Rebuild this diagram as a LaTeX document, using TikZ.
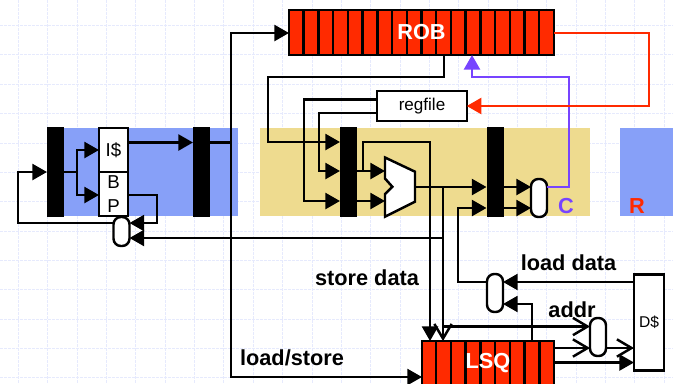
\documentclass[tikz,border=0pt]{standalone}
\usepackage{fontspec}
\setmainfont{Liberation Sans}
\usetikzlibrary{arrows.meta}
\definecolor{stagblue}{HTML}{87A0F8}
\definecolor{stagtan}{HTML}{EEDB8F}
\definecolor{robred}{HTML}{FF2A00}
\definecolor{compurple}{HTML}{7744FF}
\definecolor{gridblue}{HTML}{E6EAFD}
\tikzset{
  x=0.75pt,y=-0.75pt,
  sz/.style 2 args={minimum width=#1*0.75pt,minimum height=#2*0.75pt,inner sep=0pt,outer sep=0pt},
  wire/.style={line width=1.85pt,draw=black},
  fa/.style={-{Triangle[length=11pt,width=12pt]}},
  oa/.style={-{Straight Barb[length=11pt,width=13pt,line width=1.85pt]}},
  bar/.style={fill=black,draw=none,sz={17}{90}},
  unit/.style={draw=black,fill=white,line width=1.85pt},
  latchmux/.style={draw=black,fill=white,line width=1.85pt,rounded corners=5.5pt},
  queue/.style={draw=black,fill=robred,line width=1.85pt},
  lab/.style={font=\fontsize{16.3}{18}\selectfont\bfseries,inner sep=0pt},
  small/.style={font=\fontsize{12.8}{14}\selectfont,inner sep=0pt},
  bigl/.style={font=\fontsize{14}{16}\selectfont,inner sep=0pt},
  stage/.style={draw=none,sz={#1}{88}},
  gridl/.style={draw=gridblue,line width=0.6pt,dash pattern=on 2pt off 1pt}
}
\begin{document}
\begin{tikzpicture}
\clip (0,0) rectangle (673,383);
% grid
\foreach \i in {0,...,22} {\draw[gridl] (18.4+29.35*\i,0) -- (18.4+29.35*\i,383);}
\foreach \i in {0,...,12} {\draw[gridl] (0,25.5+29.35*\i) -- (673,25.5+29.35*\i);}
% stages
\node[stage=175,fill=stagblue] (fetch) at (150.5,172) {};
\node[stage=330,fill=stagtan] (exec) at (425,172) {};
\node[stage=53,fill=stagblue] (retire) at (646.5,172) {};
% latches
\node[bar,sz={16.5}{90}] (bar1) at (55.25,172) {};
\node[bar] (bar2) at (201.5,172) {};
\node[bar] (bar3) at (348.5,172) {};
\node[bar] (bar4) at (495,172) {};
% queues
\node[queue,sz={265}{45}] (rob) at (421.5,32.5) {};
\foreach \i in {1,...,17} {\draw[line width=1.85pt] (289+14.72*\i,10) -- (289+14.72*\i,55);}
\node[font=\fontsize{16.3}{18}\selectfont\bfseries,text=white,inner sep=0pt] (robt) at (421.5,32) {ROB};
\node[queue,sz={132}{60}] (lsq) at (488,371) {};
\foreach \i in {1,...,8} {\draw[line width=1.85pt] (421.5+14.72*\i,341) -- (421.5+14.72*\i,390);}
\node[font=\fontsize{16.3}{18}\selectfont\bfseries,text=white,inner sep=0pt] (lsqt) at (488,363.5) {LSQ};
% units
\node[unit,sz={29}{44}] (ic) at (113.5,150) {};
\node[bigl] (ict) at (113.5,150) {I\$};
\node[unit,sz={29}{44}] (bp) at (113.5,194) {};
\node[bigl] (bpb) at (113.5,182.5) {B};
\node[bigl] (bpp) at (113.5,206.5) {P};
\node[unit,sz={89.5}{30},small] (regfile) at (422,106) {regfile};
\node[unit,sz={30}{96},font=\fontsize{11.7}{14}\selectfont] (dc) at (649,322.5) {D\$};
% ALU
\coordinate (aluin1) at (385,171);
\coordinate (aluin2) at (385,201);
\coordinate (aluout) at (415,187);
\draw[unit,line join=miter] (385,157.5) -- (415,171.7) -- (415,201.7) -- (385,216.7) -- (385,194) -- (392.3,186.7) -- (385,178.5) -- cycle;
% muxes
\node[latchmux,sz={16}{29}] (m1) at (121.5,231.5) {};
\node[latchmux,sz={16}{38}] (m2) at (495,293) {};
\node[latchmux,sz={16}{38}] (m3) at (598,337) {};
\node[latchmux,sz={16}{38}] (m4) at (539,198) {};
% fetch wires
\draw[wire,fa] (bar1.east |- 0,172) -- (77,172) -- (77,150) -- (ic.west |- 0,150);
\draw[wire,fa] (77,172) -- (77,195) -- (bp.west |- 0,195);
\draw[wire,fa] (ic.east |- 0,142.5) -- (bar2.west |- 0,142.5);
\draw[wire] (bar2.east |- 0,142.5) -- (231,142.5);
\draw[wire,fa] (bp.east |- 0,195) -- (157,195) -- (157,223) -- (m1.east |- 0,223);
\draw[wire,fa] (m1.west |- 0,223) -- (18,223) -- (18,172) -- (bar1.west |- 0,172);
% dispatch
\draw[wire,fa] (231,142.5) -- (231,33) -- (rob.west |- 0,33);
\draw[wire,fa] (231,142.5) -- (231,377) -- (lsq.west |- 0,377);
\draw[wire,fa] (444,0 |- rob.south) -- (444,77) -- (268,77) -- (268,142) -- (bar3.west |- 0,142);
\draw[wire,fa] (regfile.west |- 0,99.5) -- (304,99.5) -- (304,201) -- (bar3.west |- 0,201);
\draw[wire,fa] (regfile.west |- 0,113) -- (319,113) -- (319,171) -- (bar3.west |- 0,171);
% execute
\draw[wire,fa] (bar3.east |- 0,171) -- (aluin1);
\draw[wire,fa] (bar3.east |- 0,201) -- (aluin2);
\draw[wire,fa] (aluout) -- (bar4.west |- 0,187);
\draw[wire,fa] (443,187) -- (443,238) -- (m1.east |- 0,238);
\draw[wire,fa] (363,171) -- (363,142) -- (430,142) -- (430,0 |- lsq.north);
\draw[wire,oa] (443,238) -- (443,0 |- lsq.north);
\draw[wire,oa] (443,326.5) -- (m3.west |- 0,326.5);
\draw[wire,fa] (bar4.east |- 0,187) -- (m4.west |- 0,187);
\draw[wire,fa] (bar4.east |- 0,208) -- (m4.west |- 0,208);
% memory
\draw[wire,fa] (dc.west |- 0,282) -- (m2.east |- 0,282);
\draw[wire,fa] (532,0 |- lsq.north) -- (532,304) -- (m2.east |- 0,304);
\draw[wire,fa] (m2.west |- 0,282) -- (458,282) -- (458,208) -- (bar4.west |- 0,208);
\draw[wire,oa] (lsq.east |- 0,348) -- (m3.west |- 0,348);
\draw[wire,oa] (m3.east |- 0,348) -- (dc.west |- 0,348);
\draw[wire,fa] (lsq.east |- 0,362.5) -- (dc.west |- 0,362.5);
% commit
\draw[line width=2pt,draw=compurple,fa] (m4.east |- 0,187) -- (569,187) -- (569,77) -- (472,77) -- (472,0 |- rob.south);
\draw[line width=2pt,draw=robred,fa] (rob.east |- 0,33) -- (649,33) -- (649,106) -- (regfile.east |- 0,106);
% labels
\node[lab,text=compurple] (lc) at (566,206) {C};
\node[lab,text=robred] (lr) at (637,206) {R};
\node[lab] (lstore) at (367,278) {store data};
\node[lab] (lls) at (292,358) {load/store};
\node[lab] (lload) at (568.5,263) {load data};
\node[lab] (laddr) at (572,310) {addr};
\end{tikzpicture}
\end{document}
